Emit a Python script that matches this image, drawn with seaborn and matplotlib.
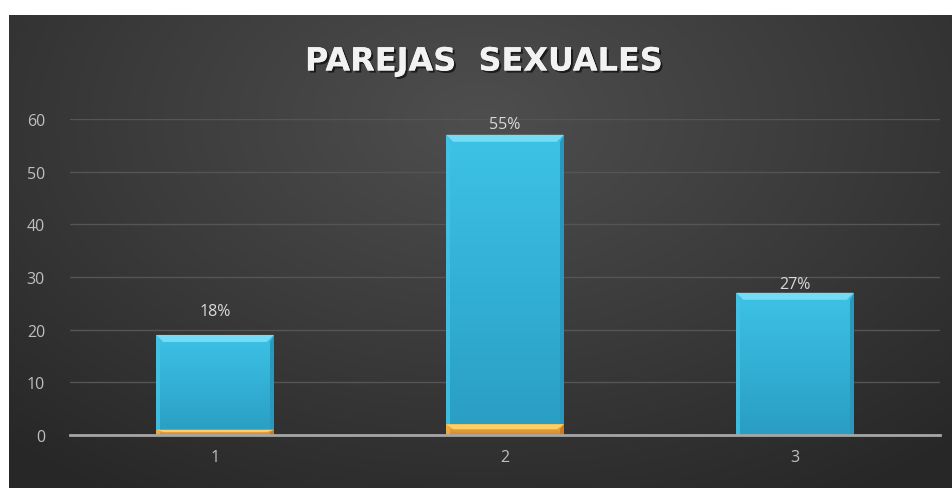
import numpy as np
import pandas as pd
import matplotlib
matplotlib.use("Agg")
import matplotlib.pyplot as plt
import matplotlib.patheffects as pe
from matplotlib.colors import LinearSegmentedColormap
from matplotlib.patches import Polygon
import seaborn as sns

# Chart data
categories = ["1", "2", "3"]
base_values = [1, 2, 0]        # small orange segment at the bottom
share_values = [18, 55, 27]    # cyan segment, labelled as a percentage
title = "PAREJAS  SEXUALES"
y_ticks = [0, 10, 20, 30, 40, 50, 60]

df = pd.DataFrame({
    "categoria": categories,
    "base": base_values,
    "share": share_values,
})
df["total"] = df["base"] + df["share"]

sns.set_theme(style="white")
plt.rcParams["font.family"] = ["Open Sans", "DejaVu Sans"]

W, H = 952, 489
fig = plt.figure(figsize=(W / 100, H / 100), dpi=100, facecolor="white")

# Dark radial-gradient backdrop (white margin on top and left)
bg = fig.add_axes([9 / W, 0, (W - 9) / W, (H - 16) / H])
bg.set_axis_off()
yy, xx = np.mgrid[0:1:300j, 0:1:500j]
r = np.sqrt(((xx - 0.50) / 0.75) ** 2 + ((yy - 0.22) / 0.95) ** 2)
r = np.clip(r, 0, 1)
bg_cmap = LinearSegmentedColormap.from_list("bg", ["#4e4e4e", "#3b3b3b", "#272727"])
bg.imshow(r, cmap=bg_cmap, aspect="auto", extent=[0, 1, 1, 0], vmin=0, vmax=1)
bg.set_xlim(0, 1)
bg.set_ylim(1, 0)

ax = fig.add_axes([70 / W, (H - 436) / H, 870 / W, 316 / H])
ax.patch.set_alpha(0)

cyan = "#35b3d8"
orange = "#e89a35"
bar_w = 0.405

sns.barplot(data=df, x="categoria", y="total", color=cyan, width=bar_w,
            saturation=1, ax=ax, zorder=3, linewidth=0)
sns.barplot(data=df, x="categoria", y="base", color=orange, width=bar_w,
            saturation=1, ax=ax, zorder=4, linewidth=0)

ax.set_xlim(-0.5, 2.5)
ax.set_ylim(0, 60)

patches = list(ax.patches)
cyan_bars = patches[:3]
orange_bars = patches[3:6]

cyan_grad = LinearSegmentedColormap.from_list("cy", ["#2a9dc2", "#33b0d6", "#3dc2e6"])
orange_grad = LinearSegmentedColormap.from_list("or", ["#d8872a", "#f2b447"])

px_x = 3.0 / 870      # one pixel in data units along x
px_y = 60.0 / 316     # one pixel in data units along y

def shade(bar, cmap, z, bevel_col, side_col, left_col):
    x0 = bar.get_x()
    x1 = x0 + bar.get_width()
    y0 = bar.get_y()
    y1 = y0 + bar.get_height()
    if y1 - y0 <= 0:
        return
    grad = np.linspace(1, 0, 100).reshape(-1, 1)
    im = ax.imshow(grad, cmap=cmap, aspect="auto", extent=[x0, x1, y0, y1],
                   zorder=z, interpolation="bilinear")
    im.set_clip_path(bar)
    bx = 7 * px_x
    by = min(7 * px_y, (y1 - y0) * 0.45)
    # top bevel
    ax.add_patch(Polygon([[x0, y1], [x1, y1], [x1 - bx, y1 - by], [x0 + bx, y1 - by]],
                         closed=True, facecolor=bevel_col, edgecolor="none", zorder=z + 0.1))
    # right side darker bevel
    ax.add_patch(Polygon([[x1, y1], [x1, y0], [x1 - bx * 0.6, y0], [x1 - bx * 0.6, y1 - by]],
                         closed=True, facecolor=side_col, edgecolor="none", zorder=z + 0.1))
    # left side lighter bevel
    ax.add_patch(Polygon([[x0, y1], [x0, y0], [x0 + bx * 0.6, y0], [x0 + bx * 0.6, y1 - by]],
                         closed=True, facecolor=left_col, edgecolor="none",
                         alpha=0.8, zorder=z + 0.1))

for b in cyan_bars:
    shade(b, cyan_grad, 3.2, "#74dcf4", "#2a98bc", "#44c4e6")
for b in orange_bars:
    shade(b, orange_grad, 4.2, "#fbd06a", "#c97c22", "#f0b048")

ax.set_xlim(-0.5, 2.5)
ax.set_ylim(0, 60)

# Value labels
label_offsets = [4.5, 2.0, 1.7]
for i, (tot, sh) in enumerate(zip(df["total"], df["share"])):
    ax.text(i, tot + label_offsets[i], f"{sh}%", ha="center", va="center",
            color="#d9d9d9", fontsize=11.5, zorder=6)

# Grid and axes
ax.set_yticks(y_ticks)
ax.yaxis.grid(True, color="#555555", linewidth=1.0, zorder=0)
ax.xaxis.grid(False)
for s in ["top", "right", "left"]:
    ax.spines[s].set_visible(False)
ax.spines["bottom"].set_color("#a6a6a6")
ax.spines["bottom"].set_linewidth(2.0)
ax.spines["bottom"].set_zorder(5)
ax.tick_params(axis="both", length=0, colors="#bfbfbf", labelsize=11.5)
ax.tick_params(axis="y", pad=18)
ax.tick_params(axis="x", pad=10)
ax.set_xlabel("")
ax.set_ylabel("")

fig.text(484 / W, 1 - 63 / H, title, ha="center", va="center", color="#f2f2f2",
         fontsize=23, fontweight="bold", family=["DejaVu Sans"],
         path_effects=[pe.withSimplePatchShadow(offset=(1.5, -1.5), shadow_rgbFace="#111111", alpha=0.8),
                       pe.Normal()])

fig.savefig("out.png", dpi=100, facecolor="white")
